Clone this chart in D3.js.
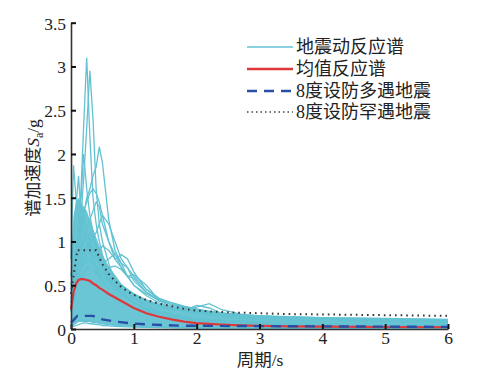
<!DOCTYPE html>
<html><head><meta charset="utf-8">
<script src="https://cdn.jsdelivr.net/npm/d3@7"></script>
<style>
html,body{margin:0;padding:0;background:#fff;}
svg{display:block;}
text{font-family:'Liberation Serif','Times New Roman','Noto Sans CJK SC',serif;fill:#222;}
</style></head>
<body>
<svg id="c" width="494" height="386"></svg>
<script>
// periods (s)
const periods = [0,0.04,0.08,0.12,0.16,0.2,0.25,0.3,0.35,0.4,0.45,0.5,0.6,0.7,0.8,0.9,1.0,1.2,1.4,1.6,1.8,2.0,2.2,2.4,2.7,3.0,3.5,4.0,5.0,6.0];
// dense bundle of earthquake response spectra (upper / lower edge)
const bundleHigh = [0.9,1.3,1.45,1.5,1.45,1.4,1.35,1.25,1.15,1.05,0.95,0.85,0.72,0.62,0.52,0.46,0.41,0.34,0.29,0.26,0.23,0.21,0.195,0.18,0.165,0.155,0.145,0.135,0.125,0.115];
const bundleLow  = [0.03,0.05,0.07,0.08,0.08,0.08,0.08,0.08,0.07,0.07,0.06,0.06,0.05,0.04,0.035,0.03,0.025,0.02,0.015,0.012,0.01,0.01,0.008,0.007,0.006,0.005,0.005,0.004,0.004,0.003];
// individual earthquake response spectra
const quakes = [
 [0.5,0.7,0.9,1.1,1.6,2.3,3.1,2.2,1.5,1.2,1.0,0.85,0.6,0.5,0.4,0.35,0.3,0.22,0.18,0.15,0.12,0.1,0.09,0.08,0.07,0.06,0.05,0.045,0.04,0.035],
 [0.45,0.6,0.8,1.0,1.3,1.7,2.3,2.95,2.4,1.6,1.2,1.0,0.75,0.55,0.45,0.4,0.35,0.27,0.2,0.16,0.13,0.11,0.1,0.09,0.08,0.07,0.06,0.05,0.045,0.04],
 [0.35,0.5,0.7,0.9,1.1,1.3,1.5,1.6,1.75,1.85,2.08,1.9,1.25,0.9,0.75,0.6,0.5,0.38,0.3,0.25,0.2,0.18,0.16,0.14,0.12,0.11,0.1,0.09,0.08,0.07],
 [0.8,1.87,1.5,1.3,1.2,1.3,1.1,1.0,0.9,0.8,0.75,0.7,0.55,0.45,0.4,0.35,0.3,0.24,0.2,0.16,0.14,0.12,0.11,0.1,0.09,0.08,0.07,0.06,0.05,0.045],
 [0.4,0.6,0.8,1.0,1.2,1.35,1.45,1.55,1.6,1.55,1.45,1.3,1.0,0.8,0.7,0.6,0.5,0.4,0.33,0.28,0.24,0.2,0.18,0.16,0.14,0.13,0.12,0.11,0.1,0.09],
 [0.3,0.5,0.7,0.85,0.95,1.05,1.15,1.25,1.35,1.45,1.4,1.2,1.0,0.85,0.75,0.7,0.6,0.45,0.35,0.3,0.25,0.22,0.2,0.18,0.16,0.15,0.13,0.12,0.11,0.1],
 [0.3,0.5,0.7,0.8,0.9,1.0,1.05,1.1,1.0,0.95,0.9,0.95,0.9,0.8,0.85,0.8,0.65,0.45,0.35,0.3,0.26,0.23,0.2,0.18,0.16,0.15,0.14,0.13,0.12,0.11],
 [0.25,0.4,0.6,0.7,0.8,0.85,0.9,0.95,0.9,0.85,0.8,0.75,0.7,0.72,0.68,0.6,0.62,0.5,0.33,0.28,0.24,0.22,0.2,0.18,0.16,0.14,0.13,0.12,0.11,0.1],
 [0.2,0.3,0.45,0.55,0.6,0.65,0.7,0.7,0.68,0.65,0.62,0.6,0.55,0.5,0.45,0.4,0.35,0.3,0.27,0.24,0.22,0.25,0.29,0.22,0.17,0.15,0.13,0.12,0.11,0.1],
 [0.2,0.35,0.5,0.6,0.7,0.75,0.8,0.8,0.75,0.7,0.68,0.65,0.6,0.55,0.5,0.45,0.4,0.32,0.26,0.22,0.21,0.27,0.24,0.18,0.15,0.14,0.13,0.12,0.1,0.09],
 [0.6,1.0,1.4,1.75,1.3,1.1,1.0,0.9,0.8,0.7,0.6,0.55,0.45,0.38,0.32,0.28,0.25,0.2,0.16,0.13,0.11,0.1,0.09,0.08,0.07,0.06,0.05,0.045,0.04,0.035],
 [0.4,0.6,0.9,1.2,1.5,2.0,1.6,1.3,1.1,0.95,0.85,0.75,0.6,0.5,0.42,0.36,0.3,0.24,0.2,0.17,0.14,0.12,0.11,0.1,0.09,0.08,0.07,0.06,0.05,0.045],
 [0.02,0.03,0.04,0.05,0.06,0.07,0.07,0.06,0.06,0.05,0.05,0.04,0.035,0.03,0.028,0.025,0.022,0.018,0.015,0.013,0.012,0.011,0.01,0.01,0.009,0.008,0.007,0.006,0.005,0.005],
 [0.03,0.05,0.07,0.09,0.1,0.1,0.09,0.09,0.08,0.07,0.07,0.06,0.05,0.045,0.04,0.035,0.03,0.025,0.02,0.018,0.016,0.015,0.014,0.013,0.012,0.011,0.01,0.009,0.008,0.007],
 [0.3,0.45,0.6,0.7,0.8,0.9,0.95,1.0,1.05,1.1,1.2,1.3,1.2,1.0,0.8,0.7,0.55,0.42,0.34,0.28,0.24,0.2,0.18,0.16,0.14,0.13,0.12,0.11,0.1,0.09],
 [0.25,0.4,0.55,0.65,0.75,0.8,0.85,0.88,0.85,0.8,0.78,0.75,0.8,0.86,0.7,0.6,0.58,0.42,0.32,0.26,0.22,0.2,0.19,0.17,0.15,0.14,0.13,0.12,0.11,0.1]
];
// mean response spectrum
const meanSpec = [0.22,0.42,0.52,0.56,0.57,0.57,0.56,0.55,0.52,0.5,0.47,0.45,0.4,0.36,0.32,0.28,0.24,0.18,0.14,0.11,0.085,0.068,0.058,0.05,0.042,0.035,0.03,0.027,0.023,0.02];
// design spectra
const freqT = [0,0.1,0.35,0.5,0.7,1.0,1.3,1.75,3,4,5,6];
const freqA = [0.07,0.15,0.15,0.11,0.085,0.062,0.05,0.038,0.033,0.03,0.027,0.024];
const rareT = [0,0.1,0.4,0.5,0.6,0.7,0.8,0.9,1.0,1.2,1.4,1.6,1.8,2.0,2.5,3.5,6];
const rareA = [0.4,0.9,0.9,0.74,0.63,0.55,0.48,0.43,0.39,0.33,0.29,0.26,0.23,0.21,0.19,0.17,0.15];
const xTicks = [0,1,2,3,4,5,6];
const yTicks = [0,0.5,1,1.5,2,2.5,3,3.5];
const legendLabels = ["地震动反应谱","均值反应谱","8度设防多遇地震","8度设防罕遇地震"];

const cyan = "#62c2d2";
const serif = "'Liberation Serif','Times New Roman','DejaVu Serif',serif";
const svg = d3.select("#c");
const x = d3.scaleLinear().domain([0,6]).range([71,448]);
const y = d3.scaleLinear().domain([0,3.5]).range([329,22.7]);

const plot = svg.append("g");
const area = d3.area().x((d,i)=>x(periods[i])).y0((d,i)=>y(bundleLow[i])).y1(d=>y(d));
plot.append("path").datum(bundleHigh).attr("d",area).attr("fill",cyan).attr("opacity",0.95);

const line = d3.line().x((d,i)=>x(periods[i])).y(d=>y(d));
plot.selectAll(".q").data(quakes).join("path").attr("class","q")
  .attr("d",line).attr("fill","none").attr("stroke",cyan).attr("stroke-width",1.3);

const line2 = (T)=>d3.line().x((d,i)=>x(T[i])).y(d=>y(d));
plot.append("path").datum(rareA).attr("d",line2(rareT)).attr("fill","none")
  .attr("stroke","#333").attr("stroke-width",2).attr("stroke-dasharray","1.6,4");
plot.append("path").datum(meanSpec).attr("d",line).attr("fill","none")
  .attr("stroke","#e0373a").attr("stroke-width",2.2);
plot.append("path").datum(freqA).attr("d",line2(freqT)).attr("fill","none")
  .attr("stroke","#2a4ea6").attr("stroke-width",2.4).attr("stroke-dasharray","10,7");

// axes
const ax = svg.append("g").attr("transform","translate(0,329)")
  .call(d3.axisBottom(x).tickValues(xTicks).tickSize(-5).tickSizeOuter(0).tickPadding(3).tickFormat(d3.format("~g")));
const ay = svg.append("g").attr("transform","translate(71,0)")
  .call(d3.axisLeft(y).tickValues(yTicks).tickSize(-5).tickSizeOuter(0).tickPadding(5).tickFormat(d3.format("~g")));
[ax,ay].forEach(a=>{
  a.attr("font-family",serif);
  a.selectAll("text").style("font-size","17.5px").style("font-family",serif).attr("fill","#222");
  a.selectAll("line").attr("stroke","#111").attr("stroke-width",2);
  a.select(".domain").attr("stroke","#333").attr("stroke-width",1.6);
});
ax.selectAll("text").attr("dy","0.7em");
ay.selectAll("text").attr("dy","0.36em");

// axis titles
svg.append("text").attr("x",260).attr("y",366).attr("text-anchor","middle")
  .style("font-size","17.5px").text("周期/s");
const yl = svg.append("text").attr("transform","translate(39,168) rotate(-90)").attr("text-anchor","middle")
  .style("font-size","17.5px");
yl.append("tspan").text("谱加速度");
yl.append("tspan").style("font-style","italic").text("S");
yl.append("tspan").attr("dy",4).style("font-size","12px").text("a");
yl.append("tspan").attr("dy",-4).text("/g");

// legend
const lg = svg.append("g");
const rows = [47,69,91,112];
const styles = [
  {c:cyan,w:1.5,d:null},
  {c:"#e0373a",w:2.4,d:null},
  {c:"#2a4ea6",w:2.6,d:"10,7"},
  {c:"#444",w:1.6,d:"1.5,3"}
];
legendLabels.forEach((t,i)=>{
  lg.append("line").attr("x1",247).attr("x2",293).attr("y1",rows[i]).attr("y2",rows[i])
    .attr("stroke",styles[i].c).attr("stroke-width",styles[i].w).attr("stroke-dasharray",styles[i].d);
  lg.append("text").attr("x",296).attr("y",rows[i]).attr("dy","0.36em")
    .style("font-size","18px").text(t);
});
</script>
</body></html>
